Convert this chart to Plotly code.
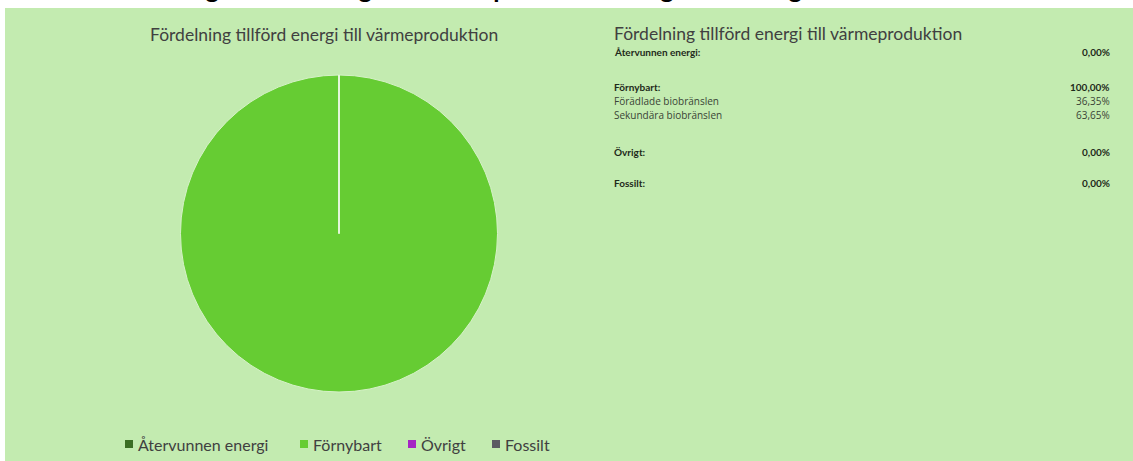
import plotly.graph_objects as go

# pie data (share of supplied energy, %)
labels = ["Återvunnen energi", "Förnybart", "Övrigt", "Fossilt"]
values = [0.0, 100.0, 0.0, 0.0]
colors = ["#3B6E24", "#66CC33", "#A526C4", "#5B5B62"]

# summary table on the right
table_rows = ["Återvunnen energi:", "Förnybart:", "Förädlade biobränslen", "Sekundära biobränslen",
              "Övrigt:", "Fossilt:"]
table_vals = ["0,00%", "100,00%", "36,35%", "63,65%", "0,00%", "0,00%"]
table_bold = [True, True, False, False, True, True]

header = "3.3 Fördelning tillförd energi för värmeproduktion i Ingelstad enligt 2022"
chart_title = "Fördelning tillförd energi till värmeproduktion"

W, H = 1133, 461
BG = "#C3EBB0"
FONT = "Lato"

def px_x(x):
    return x / W

def px_y(y):
    return 1 - y / H

pie_dom_x = [px_x(180), px_x(498)]
pie_dom_y = [px_y(392), px_y(75)]

fig = go.Figure()
fig.add_trace(go.Pie(
    labels=labels, values=values, sort=False, direction="clockwise", rotation=0,
    marker=dict(colors=colors, line=dict(color="#D6F2C8", width=1)),
    textinfo="none", hoverinfo="label+percent",
    domain=dict(x=pie_dom_x, y=pie_dom_y),
    showlegend=False,
))

# background panel
fig.add_shape(type="rect", xref="paper", yref="paper", x0=px_x(5), x1=1, y0=0, y1=px_y(8),
              fillcolor=BG, line_width=0, layer="below")

# slice border from centre to the top (zero-valued slices)
cx = (pie_dom_x[0] + pie_dom_x[1]) / 2
fig.add_shape(type="line", xref="paper", yref="paper", x0=cx, x1=cx,
              y0=(pie_dom_y[0] + pie_dom_y[1]) / 2, y1=pie_dom_y[1],
              line=dict(color="#E4F6DA", width=2))

ann = []
# section header, cut off by the top edge as in the source page
ann.append(dict(text="<b>" + header + "</b>", x=px_x(55), y=px_y(5), xanchor="left", yanchor="bottom",
                showarrow=False, font=dict(family=FONT, size=25.5, color="#000000")))
ann.append(dict(text=chart_title, x=px_x(324), y=px_y(35), xanchor="center", yanchor="middle",
                showarrow=False, font=dict(family=FONT, size=17.5, color="#404040")))
ann.append(dict(text=chart_title, x=px_x(612), y=px_y(33), xanchor="left", yanchor="middle",
                showarrow=False, font=dict(family=FONT, size=17.5, color="#404040")))

row_y = [52, 87, 101, 115, 152, 183]
for name, val, bold, y in zip(table_rows, table_vals, table_bold, row_y):
    if bold:
        f = dict(family=FONT, size=10, color="#1E2A1A")
        nm, vl = "<b>" + name + "</b>", "<b>" + val + "</b>"
    else:
        f = dict(family="Open Sans", size=10, color="#3A4436")
        nm, vl = name, val
    ann.append(dict(text=nm, x=px_x(612), y=px_y(y), xanchor="left", yanchor="middle",
                    showarrow=False, font=f))
    ann.append(dict(text=vl, x=px_x(1112), y=px_y(y), xanchor="right", yanchor="middle",
                    showarrow=False, font=f))

# legend drawn by hand (tight marker/text spacing like the original)
leg_x = [125, 300, 408, 492]
leg_y = 444
for lab, col, x in zip(labels, colors, leg_x):
    fig.add_shape(type="rect", xref="paper", yref="paper", x0=px_x(x), x1=px_x(x + 8),
                  y0=px_y(leg_y + 4), y1=px_y(leg_y - 4), fillcolor=col, line_width=0)
    ann.append(dict(text=lab, x=px_x(x + 11), y=px_y(leg_y), xanchor="left", yanchor="middle",
                    showarrow=False, font=dict(family=FONT, size=16, color="#404040")))

fig.update_layout(
    width=W, height=H,
    margin=dict(l=0, r=0, t=0, b=0),
    paper_bgcolor="white", plot_bgcolor="white",
    annotations=ann,
    showlegend=False,
)

fig.write_html("out.html", config={"displayModeBar": False},
               post_script="document.body.style.margin='0';")
